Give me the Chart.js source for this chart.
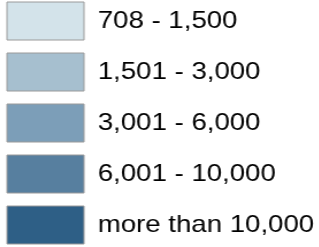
<!DOCTYPE html>
<html>
<head>
<meta charset="utf-8">
<script src="https://cdn.jsdelivr.net/npm/chart.js@4/dist/chart.umd.min.js"></script>
<style>
  html, body { margin: 0; padding: 0; background: #ffffff; overflow: hidden; width: 319px; height: 247px; }
  #wrap { position: absolute; left: -8px; top: -11px; width: 300px; height: 320px; transform: scaleX(1.15); transform-origin: 0 0; }
</style>
</head>
<body>
<div id="wrap"><canvas id="c"></canvas></div>
<script>
const categories = ["708 - 1,500", "1,501 - 3,000", "3,001 - 6,000", "6,001 - 10,000", "more than 10,000"];
const classColors = ["#d3e3ea", "#a6bfcf", "#7c9eb8", "#577f9f", "#2e5f86"];
const classValues = [null, null, null, null, null];

const datasets = categories.map((label, i) => ({
  label: label,
  data: [classValues[i]],
  backgroundColor: classColors[i],
  borderColor: "#9a9a9a",
  borderWidth: 1
}));

new Chart(document.getElementById("c"), {
  type: "bar",
  data: { labels: [""], datasets: datasets },
  options: {
    responsive: true,
    maintainAspectRatio: false,
    animation: false,
    layout: { padding: 0 },
    scales: { x: { display: false }, y: { display: false } },
    plugins: {
      tooltip: { enabled: false },
      legend: {
        display: true,
        position: "top",
        align: "start",
        maxHeight: 1000,
        labels: {
          boxWidth: 67,
          boxHeight: 38,
          padding: 13,
          color: "#000000",
          font: { family: "'Liberation Sans', Arial, sans-serif", size: 24 }
        }
      }
    }
  }
});
</script>
</body>
</html>
